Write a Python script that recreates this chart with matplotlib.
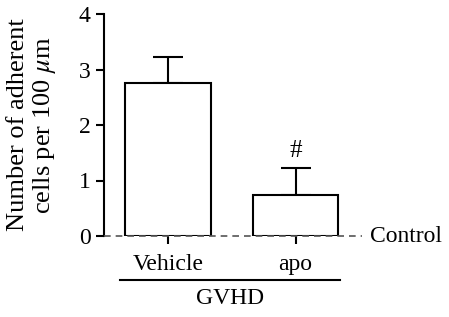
import matplotlib.pyplot as plt

groups = ["Vehicle", "apo"]
means = [2.75, 0.73]
errors = [0.48, 0.49]
yticks = [0, 1, 2, 3, 4]

plt.rcParams['font.family'] = ['Liberation Serif', 'DejaVu Serif']
plt.rcParams['mathtext.fontset'] = 'stix'

fig = plt.figure(figsize=(4.49, 3.17), dpi=100)
ax = fig.add_axes([104/449, 1-236/317, (362-104)/449, (236-14)/317])

x = list(range(len(groups)))
ax.bar(x, means, width=0.67, color='white', edgecolor='black', linewidth=1.5, zorder=2)
ax.errorbar(x, means, yerr=[[0, 0], errors], fmt='none', ecolor='black',
            elinewidth=1.5, capsize=11, capthick=1.5, zorder=1)
ax.axhline(0, color='#555555', linestyle=(0, (4, 3)), linewidth=1.2, clip_on=False, zorder=3)

ax.text(x[1], means[1] + errors[1] + 0.12, "#", ha='center', va='bottom', fontsize=18)

ax.set_xlim(-0.5, 1.52)
ax.set_ylim(0, 4)
ax.set_yticks(yticks)
ax.set_xticks(x)
ax.set_xticklabels(groups)
ax.spines['top'].set_visible(False)
ax.spines['right'].set_visible(False)
ax.spines['bottom'].set_visible(False)
ax.spines['left'].set_linewidth(1.5)
ax.tick_params(axis='both', labelsize=17, width=1.5, length=6, direction='out')
ax.tick_params(axis='x', pad=7)
ax.set_ylabel("Number of adherent\ncells per 100 $\\mu$m", fontsize=19, linespacing=1.1)
ax.yaxis.set_label_coords(-0.18, 0.5)

ax.text(1.03, 0, "Control", transform=ax.get_yaxis_transform(), ha='left', va='center', fontsize=17)

fig.add_artist(plt.Line2D([120/449, 340/449], [1-280/317, 1-280/317], color='black', linewidth=1.5))
fig.text(230/449, 1-299/317, "GVHD", ha='center', va='center', fontsize=17)

fig.savefig("out.png", dpi=100)
